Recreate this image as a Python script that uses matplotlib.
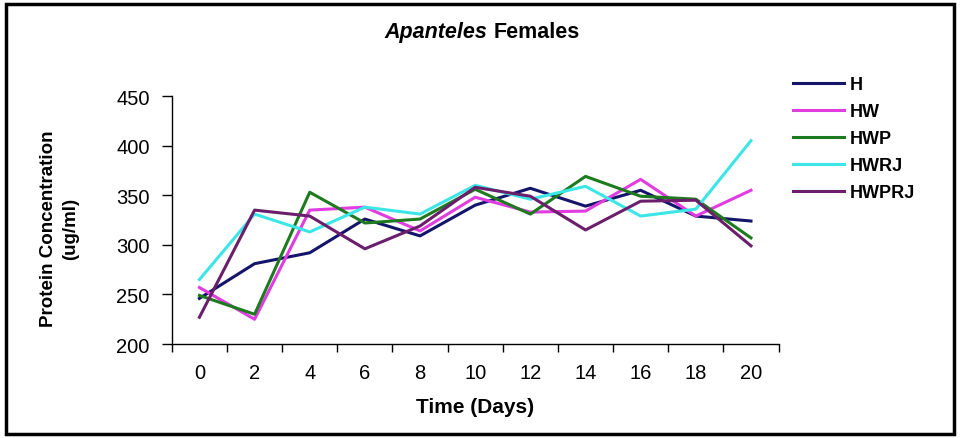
import matplotlib.pyplot as plt
from matplotlib.patches import Rectangle

plt.rcParams['font.family'] = ['Liberation Sans', 'DejaVu Sans']

# Data
days = [0, 2, 4, 6, 8, 10, 12, 14, 16, 18, 20]
H = [246, 281, 292, 326, 309, 340, 357, 339, 355, 329, 324]
HW = [257, 225, 335, 338, 314, 348, 333, 334, 366, 329, 355]
HWP = [249, 230, 353, 322, 326, 356, 331, 369, 349, 346, 307]
HWRJ = [265, 331, 313, 338, 331, 360, 346, 359, 329, 336, 405]
HWPRJ = [227, 335, 329, 296, 319, 358, 349, 315, 344, 345, 299]

series = [("H", H, "#14146b"), ("HW", HW, "#e03ce0"), ("HWP", HWP, "#1e7a1e"),
          ("HWRJ", HWRJ, "#3ce6e6"), ("HWPRJ", HWPRJ, "#6b1e6b")]

fig = plt.figure(figsize=(9.6, 4.39), dpi=100)
ax = fig.add_axes([0.179, 0.214, 0.632, 0.565])

pos = list(range(len(days)))
for name, vals, col in series:
    ax.plot(pos, vals, color=col, lw=2.2, label=name)

ax.set_ylim(200, 450)
ax.set_yticks([200, 250, 300, 350, 400, 450])
ax.set_xlim(-0.5, len(days) - 0.5)
ax.set_xticks(pos)
ax.set_xticklabels([str(d) for d in days])
ax.set_xticks([p - 0.5 for p in pos] + [len(days) - 0.5], minor=True)
ax.tick_params(axis='x', which='major', length=0, pad=14, labelsize=14.5)
ax.tick_params(axis='x', which='minor', length=6, direction='out', width=1)
ax.tick_params(axis='y', length=7, width=1, labelsize=14.5, pad=9)

for s in ['top', 'right']:
    ax.spines[s].set_visible(False)
for s in ['left', 'bottom']:
    ax.spines[s].set_linewidth(1.0)

ax.set_xlabel("Time (Days)", fontsize=15, fontweight='bold')
ax.xaxis.set_label_coords(0.5, -0.215)
ax.set_ylabel("Protein Concentration\n(ug/ml)", fontsize=13.5, fontweight='bold',
              linespacing=1.4)
ax.yaxis.set_label_coords(-0.152, 0.47)

fig.text(0.508, 0.927, "Apanteles", ha='right', va='center', fontsize=15.5,
         fontweight='bold', style='italic')
fig.text(0.514, 0.927, "Females", ha='left', va='center', fontsize=15.5,
         fontweight='bold')

ax.legend(loc='upper left', bbox_to_anchor=(0.826, 0.824), bbox_transform=fig.transFigure,
          frameon=False, borderpad=0, borderaxespad=0,
          prop={'weight': 'bold', 'size': 13}, handlelength=2.8, handletextpad=0.35,
          labelspacing=0.55)

fig.patches.append(Rectangle((0.006, 0.01), 0.988, 0.978, transform=fig.transFigure,
                             fill=False, edgecolor='black', lw=2.5))

fig.savefig("out.png", dpi=100)
